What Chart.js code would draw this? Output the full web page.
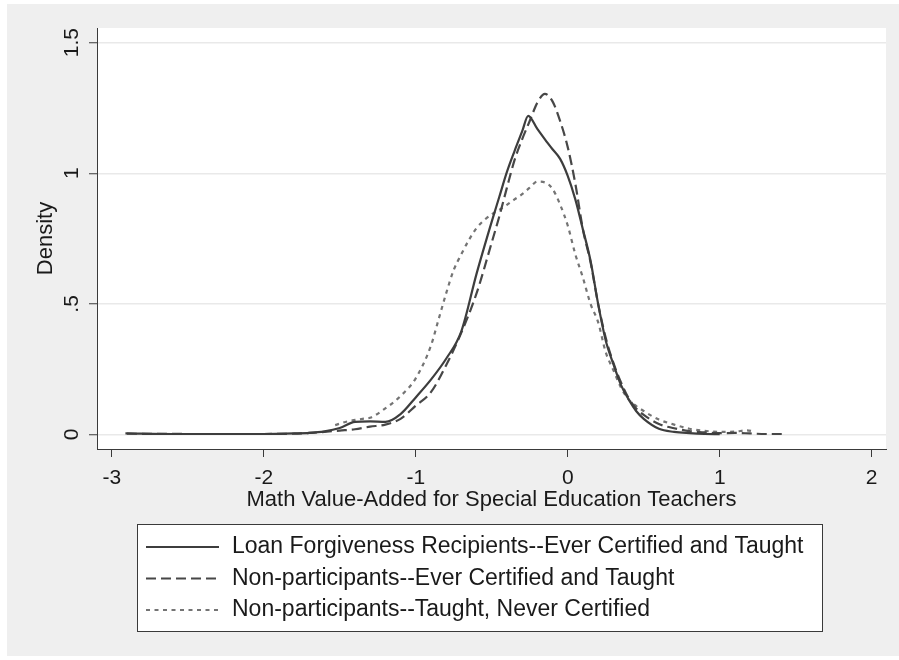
<!DOCTYPE html>
<html>
<head>
<meta charset="utf-8">
<script src="https://cdn.jsdelivr.net/npm/chart.js@4/dist/chart.umd.min.js"></script>
<style>
html,body{margin:0;padding:0;background:#ffffff;}
#wrap{width:899px;height:660px;position:relative;}
canvas{display:block;}
</style>
</head>
<body>
<div id="wrap"><canvas id="c" width="899" height="660"></canvas></div>
<script>
// ---- Data ----
const seriesLabels = [
  'Loan Forgiveness Recipients--Ever Certified and Taught',
  'Non-participants--Ever Certified and Taught',
  'Non-participants--Taught, Never Certified'
];
const xTickValues = [-3, -2, -1, 0, 1, 2];
const yTickValues = [0, 0.5, 1, 1.5];
const yTickLabels = ['0', '.5', '1', '1.5'];

const loanX = [-2.91,-2.6,-2.3,-2.0,-1.8,-1.7,-1.6,-1.5,-1.4,-1.3,-1.2,-1.1,-1.0,-0.9,-0.8,-0.7,-0.6,-0.5,-0.45,-0.4,-0.35,-0.3,-0.26,-0.2,-0.15,-0.1,-0.05,0,0.05,0.1,0.15,0.2,0.25,0.3,0.35,0.4,0.45,0.5,0.6,0.7,0.8,0.9,1.0];
const loanY = [0.004,0.002,0.002,0.002,0.004,0.006,0.012,0.025,0.048,0.05,0.048,0.078,0.142,0.21,0.29,0.395,0.615,0.815,0.91,1.005,1.085,1.16,1.22,1.17,1.13,1.092,1.055,0.99,0.9,0.785,0.665,0.5,0.36,0.27,0.19,0.135,0.09,0.06,0.022,0.01,0.005,0.002,0.001];

const certX = [-2.9,-2.5,-2.2,-2.0,-1.8,-1.7,-1.6,-1.5,-1.4,-1.3,-1.2,-1.1,-1.0,-0.9,-0.8,-0.7,-0.6,-0.5,-0.45,-0.4,-0.35,-0.3,-0.25,-0.2,-0.15,-0.1,-0.05,0,0.05,0.1,0.15,0.2,0.25,0.3,0.35,0.4,0.45,0.5,0.6,0.7,0.8,0.9,1.0,1.1,1.2,1.3,1.43];
const certY = [0.003,0.002,0.002,0.002,0.003,0.006,0.01,0.015,0.02,0.03,0.038,0.06,0.11,0.162,0.265,0.39,0.54,0.735,0.835,0.945,1.05,1.13,1.2,1.27,1.304,1.275,1.2,1.1,0.96,0.785,0.66,0.5,0.37,0.275,0.2,0.14,0.1,0.075,0.04,0.024,0.013,0.008,0.005,0.006,0.004,0.002,0.002];

const neverX = [-1.53,-1.45,-1.35,-1.3,-1.2,-1.1,-1.0,-0.9,-0.85,-0.8,-0.75,-0.7,-0.65,-0.6,-0.55,-0.5,-0.45,-0.4,-0.35,-0.3,-0.25,-0.2,-0.15,-0.1,-0.05,0,0.05,0.1,0.15,0.2,0.25,0.3,0.35,0.4,0.5,0.6,0.7,0.8,0.9,1.0,1.1,1.18,1.22];
const neverY = [0.036,0.05,0.06,0.064,0.1,0.147,0.215,0.34,0.44,0.54,0.63,0.69,0.745,0.79,0.82,0.843,0.86,0.879,0.9,0.92,0.945,0.968,0.965,0.94,0.88,0.8,0.69,0.6,0.5,0.43,0.315,0.247,0.18,0.135,0.09,0.057,0.038,0.022,0.014,0.01,0.011,0.016,0.012];

const xTitle = 'Math Value-Added for Special Education Teachers';
const yTitle = 'Density';

// ---- helpers ----
const pts = (xs, ys) => xs.map((x, i) => ({x: x, y: ys[i]}));
const FONT = '"Liberation Sans", Arial, sans-serif';

const backgroundPlugin = {
  id: 'stataBackground',
  beforeDraw(chart) {
    const ctx = chart.ctx, a = chart.chartArea;
    ctx.save();
    ctx.fillStyle = '#ffffff';
    ctx.fillRect(0, 0, chart.width, chart.height);
    ctx.fillStyle = '#efefef';
    ctx.fillRect(7, 4, chart.width - 7, chart.height - 8);
    ctx.fillStyle = '#ffffff';
    ctx.fillRect(a.left, a.top, a.right - a.left, a.bottom - a.top);
    ctx.restore();
  }
};

const boxLegendPlugin = {
  id: 'boxLegend',
  afterDraw(chart, args, o) {
    const ctx = chart.ctx;
    ctx.save();
    ctx.fillStyle = '#ffffff';
    ctx.fillRect(o.x, o.y, o.w, o.h);
    ctx.strokeStyle = '#3a3a3a';
    ctx.lineWidth = 1;
    ctx.strokeRect(o.x + 0.5, o.y + 0.5, o.w, o.h);
    chart.data.datasets.forEach((ds, i) => {
      const cy = o.firstRow + i * o.rowGap;
      ctx.beginPath();
      ctx.setLineDash(ds.borderDash || []);
      ctx.strokeStyle = ds.borderColor;
      ctx.lineWidth = ds.borderWidth;
      ctx.moveTo(o.lineX0, cy);
      ctx.lineTo(o.lineX1, cy);
      ctx.stroke();
      ctx.setLineDash([]);
      ctx.fillStyle = '#1a1a1a';
      ctx.font = o.fontSize + 'px ' + FONT;
      ctx.textBaseline = 'middle';
      ctx.textAlign = 'left';
      ctx.fillText(ds.label, o.textX, cy);
    });
    ctx.restore();
  }
};

new Chart(document.getElementById('c'), {
  type: 'line',
  data: {
    datasets: [
      {label: seriesLabels[0], data: pts(loanX, loanY), borderColor: '#3d3d3d', borderWidth: 2.2, borderDash: [], pointRadius: 0, fill: false, cubicInterpolationMode: 'monotone'},
      {label: seriesLabels[1], data: pts(certX, certY), borderColor: '#474747', borderWidth: 2.2, borderDash: [10, 5], pointRadius: 0, fill: false, cubicInterpolationMode: 'monotone'},
      {label: seriesLabels[2], data: pts(neverX, neverY), borderColor: '#747474', borderWidth: 2.2, borderDash: [4, 4.5], pointRadius: 0, fill: false, cubicInterpolationMode: 'monotone'}
    ]
  },
  options: {
    responsive: false,
    devicePixelRatio: 1,
    animation: false,
    events: [],
    layout: {padding: {left: 0, right: 13, top: 28, bottom: 0}},
    plugins: {
      legend: {display: false},
      tooltip: {enabled: false},
      boxLegend: {x: 137, y: 524, w: 685, h: 107, firstRow: 547, rowGap: 31.5, lineX0: 146, lineX1: 219, textX: 232, fontSize: 23}
    },
    scales: {
      x: {
        type: 'linear',
        min: -3.097,
        max: 2.094,
        afterBuildTicks: (s) => { s.ticks = xTickValues.map(v => ({value: v})); },
        afterFit: (s) => { s.height = 211; },
        ticks: {color: '#1a1a1a', font: {family: FONT, size: 21}, padding: 9, maxRotation: 0, autoSkip: false},
        grid: {drawOnChartArea: false, drawTicks: true, tickLength: 8, tickColor: '#3a3a3a', tickWidth: 1},
        border: {display: true, color: '#3a3a3a', width: 1},
        title: {display: true, text: xTitle, color: '#1a1a1a', font: {family: FONT, size: 22}, padding: {top: 0, bottom: 147}}
      },
      y: {
        type: 'linear',
        min: -0.0555,
        max: 1.556,
        afterBuildTicks: (s) => { s.ticks = yTickValues.map(v => ({value: v})); },
        afterFit: (s) => { s.width = 97; },
        ticks: {
          color: '#1a1a1a', font: {family: FONT, size: 21}, padding: 2, minRotation: 90, maxRotation: 90,
          crossAlign: 'center', autoSkip: false,
          callback: (v) => { const k = yTickValues.indexOf(v); return k >= 0 ? yTickLabels[k] : ''; }
        },
        grid: {drawOnChartArea: true, color: '#e9e9e9', lineWidth: 1.5, drawTicks: true, tickLength: 8, tickColor: '#3a3a3a', tickWidth: 1},
        border: {display: true, color: '#3a3a3a', width: 1},
        title: {display: true, text: yTitle, color: '#1a1a1a', font: {family: FONT, size: 22}, padding: {top: 33, bottom: 0}}
      }
    }
  },
  plugins: [backgroundPlugin, boxLegendPlugin]
});
</script>
</body>
</html>
